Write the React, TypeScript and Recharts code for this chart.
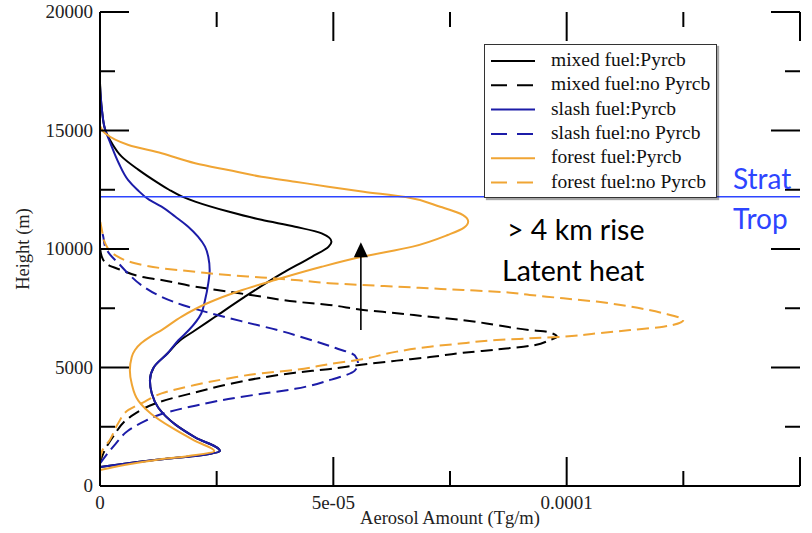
import React from "react";
import { LineChart, Line, XAxis, YAxis, ReferenceLine } from "recharts";

// aerosol amount in units of 1e-5 Tg/m, height in m
const mixedPyrcbH = [800, 960, 1130, 1270, 1480, 2050, 2600, 3300, 3900, 4450, 5000, 5600, 6150, 6570, 7130, 7980, 8970, 9670, 10100, 10310, 10660, 10940, 11230, 11580, 12000, 12220, 12500, 12780, 13350, 13910, 14480, 15040, 15900, 17000];
const mixedPyrcbV = [0, 0.6, 1.33, 2.04, 2.57, 2.04, 1.61, 1.25, 1.11, 1.07, 1.15, 1.45, 1.72, 2.04, 2.46, 3.1, 3.9, 4.54, 4.9, 4.96, 4.75, 4.18, 3.46, 2.75, 2.04, 1.75, 1.48, 1.25, 0.82, 0.46, 0.25, 0.11, 0.04, 0];

const mixedNoH = [1000, 1500, 2080, 2920, 3560, 3950, 4290, 4570, 4780, 4930, 5130, 5290, 5440, 5620, 5760, 5910, 6160, 6300, 6510, 6580, 6790, 7000, 7140, 7290, 7430, 7640, 7780, 7990, 8200, 8410, 8690, 8830, 9110, 9320, 9670, 10100];
const mixedNoV = [0, 0.1, 0.28, 0.65, 1.3, 2.04, 2.75, 3.46, 4.18, 4.89, 5.64, 6.36, 7.07, 7.78, 8.5, 9.21, 9.64, 9.79, 9.57, 9.21, 8.5, 7.78, 7.07, 6.36, 5.64, 4.91, 4.18, 3.46, 2.75, 2.04, 1.32, 0.89, 0.46, 0.18, 0.04, 0];

const slashPyrcbH = [800, 960, 1130, 1270, 1480, 2050, 2600, 3300, 3900, 4450, 5000, 5600, 6150, 6570, 7280, 7840, 8550, 9110, 9670, 10100, 10520, 10940, 11370, 11790, 12080, 12500, 12920, 13630, 14480, 15040, 15890, 16900];
const slashPyrcbV = [0, 0.6, 1.33, 2.04, 2.57, 2.04, 1.61, 1.25, 1.11, 1.07, 1.15, 1.45, 1.68, 1.9, 2.17, 2.25, 2.32, 2.35, 2.32, 2.25, 2.1, 1.89, 1.61, 1.32, 1.05, 0.8, 0.6, 0.4, 0.22, 0.11, 0.04, 0];

const slashNoH = [950, 1240, 1770, 2330, 2750, 3040, 3390, 3670, 3890, 4100, 4450, 4870, 5160, 5510, 5820, 6150, 6570, 6920, 7280, 7560, 7980, 8470, 8970, 9390, 9750, 10100, 10520, 11000];
const slashNoV = [0, 0.11, 0.33, 0.6, 0.97, 1.32, 2.04, 2.75, 3.46, 4.18, 4.89, 5.46, 5.53, 5.46, 5.05, 4.54, 3.82, 3.1, 2.39, 1.89, 1.32, 0.89, 0.6, 0.4, 0.22, 0.11, 0.07, 0];

const forestPyrcbH = [675, 900, 1100, 1270, 1470, 1900, 2470, 3040, 3600, 4310, 4870, 5440, 5740, 6020, 6300, 6580, 7150, 7710, 8270, 8690, 9250, 9670, 10100, 10590, 10900, 11160, 11430, 11780, 12190, 12420, 12630, 12840, 13050, 13330, 13620, 14040, 14390, 14880, 15200];
const forestPyrcbV = [0, 0.55, 1.2, 1.9, 2.45, 2.04, 1.53, 1.1, 0.82, 0.68, 0.64, 0.68, 0.75, 0.88, 1.08, 1.32, 1.75, 2.3, 3.05, 3.75, 4.75, 5.61, 6.7, 7.45, 7.8, 7.89, 7.78, 7.29, 6.55, 5.65, 4.89, 4.18, 3.46, 2.75, 2.04, 1.32, 0.61, 0.11, 0];

const forestNoH = [1100, 1500, 1940, 2650, 3210, 3560, 3910, 4260, 4540, 4760, 4900, 5140, 5350, 5670, 5880, 6020, 6160, 6230, 6300, 6440, 6580, 6720, 7000, 7290, 7570, 7780, 7920, 8060, 8200, 8270, 8340, 8410, 8480, 8560, 8690, 8800, 8900, 9040, 9190, 9400, 9750, 10240, 10800, 11220];
const forestNoV = [0, 0.05, 0.21, 0.39, 0.61, 0.96, 1.32, 2.03, 2.75, 3.46, 4.18, 4.9, 5.62, 6.36, 7.07, 7.78, 8.5, 9.21, 9.93, 10.64, 11.36, 12.07, 12.5, 12.07, 11.36, 10.64, 9.93, 9.21, 8.5, 7.78, 7.07, 6.36, 5.64, 4.91, 4.18, 3.46, 2.75, 2.04, 1.32, 0.75, 0.32, 0.11, 0.04, 0];

const xTicks = [0, 2.5, 5, 7.5, 10, 12.5, 15];
const xTickLabels: Record<number, string> = { 0: "0", 5: "5e-05", 10: "0.0001" };
const yTicks = [0, 2500, 5000, 7500, 10000, 12500, 15000, 17500, 20000];
const tropopause = 12200;

const BLACK = "#000000";
const BLUE = "#1c1ca8";
const ORANGE = "#f0a534";
const STRAT_BLUE = "#2d45ff";

const series = [
  { name: "mixed fuel:Pyrcb", h: mixedPyrcbH, v: mixedPyrcbV, color: BLACK, dash: undefined },
  { name: "mixed fuel:no Pyrcb", h: mixedNoH, v: mixedNoV, color: BLACK, dash: "12 6" },
  { name: "slash fuel:Pyrcb", h: slashPyrcbH, v: slashPyrcbV, color: BLUE, dash: undefined },
  { name: "slash fuel:no Pyrcb", h: slashNoH, v: slashNoV, color: BLUE, dash: "12 6" },
  { name: "forest fuel:Pyrcb", h: forestPyrcbH, v: forestPyrcbV, color: ORANGE, dash: undefined },
  { name: "forest fuel:no Pyrcb", h: forestNoH, v: forestNoV, color: ORANGE, dash: "12 6" },
];

const toRows = (h: number[], v: number[]) => h.map((hh, i) => ({ h: hh, v: v[i] }));

const SERIF = "'Liberation Serif', 'Times New Roman', serif";
const SANS = "Lato, 'Open Sans', sans-serif";
const PLOT = { left: 100, right: 800, top: 12, bottom: 486 };

const XTick = (props: any) => {
  const { x, payload } = props;
  const val = payload.value;
  const len = val % 5 === 0 ? 29 : 15;
  const label = xTickLabels[val];
  return (
    <g>
      <line x1={x} x2={x} y1={PLOT.bottom} y2={PLOT.bottom - len} stroke="#000" strokeWidth={2} />
      <line x1={x} x2={x} y1={PLOT.top} y2={PLOT.top + len} stroke="#000" strokeWidth={2} />
      {label && (
        <text x={x} y={509} textAnchor="middle" fontFamily={SERIF} fontSize={19} fill="#222">
          {label}
        </text>
      )}
    </g>
  );
};

const YTick = (props: any) => {
  const { y, payload } = props;
  const val = payload.value;
  const major = val % 5000 === 0;
  const len = major ? 29 : 15;
  return (
    <g>
      <line x1={PLOT.left} x2={PLOT.left + len} y1={y} y2={y} stroke="#000" strokeWidth={2} />
      <line x1={PLOT.right} x2={PLOT.right - len} y1={y} y2={y} stroke="#000" strokeWidth={2} />
      {major && (
        <text x={93} y={y + 6} textAnchor="end" fontFamily={SERIF} fontSize={19} fill="#222">
          {val}
        </text>
      )}
    </g>
  );
};

const ArrowShape = (p: any) => {
  const { x1, y1, x2, y2 } = p;
  return (
    <g>
      <line x1={x1} y1={y1} x2={x2} y2={y2 + 12} stroke="#000" strokeWidth={1.6} />
      <polygon points={`${x2},${y2} ${x2 - 7},${y2 + 15} ${x2 + 7},${y2 + 15}`} fill="#000" />
    </g>
  );
};

function LegendBox() {
  return (
    <div
      style={{
        position: "absolute",
        left: 484,
        top: 44,
        width: 231,
        height: 152,
        border: "1.5px solid #333",
        boxShadow: "2px 2px 1px rgba(0,0,0,0.35)",
        background: "#fff",
      }}
    >
      <svg width={231} height={152}>
        {series.map((s, i) => {
          const cy = 16 + i * 24.3;
          return (
            <g key={s.name}>
              <line x1={6} x2={50} y1={cy} y2={cy} stroke={s.color} strokeWidth={2} strokeDasharray={s.dash ? "16 10" : undefined} />
              <text x={66} y={cy + 5} fontFamily={SERIF} fontSize={19.5} fill="#111">
                {s.name}
              </text>
            </g>
          );
        })}
      </svg>
    </div>
  );
}

export default function App() {
  return (
    <div style={{ position: "absolute", left: 0, top: 0, width: 812, height: 533, background: "#fff" }}>
      <LineChart width={812} height={533} layout="vertical" margin={{ top: 12, right: 12, bottom: 0, left: 0 }}>
        <XAxis
          type="number"
          dataKey="v"
          domain={[0, 15]}
          ticks={xTicks}
          interval={0}
          height={47}
          tick={<XTick />}
          tickLine={false}
          axisLine={{ stroke: "#000", strokeWidth: 2 }}
          allowDataOverflow
          label={{ value: "Aerosol Amount (Tg/m)", position: "insideBottom", offset: 9, style: { fontFamily: SERIF, fontSize: 18.5, fill: "#222" } }}
        />
        <XAxis xAxisId="top" orientation="top" type="number" domain={[0, 15]} height={0} tick={false} tickLine={false} axisLine={{ stroke: "#000", strokeWidth: 2 }} />
        <YAxis
          type="number"
          dataKey="h"
          domain={[0, 20000]}
          ticks={yTicks}
          interval={0}
          width={100}
          reversed
          tick={<YTick />}
          tickLine={false}
          axisLine={{ stroke: "#000", strokeWidth: 2 }}
          allowDataOverflow
          label={{ value: "Height (m)", angle: -90, position: "insideLeft", offset: 22, style: { fontFamily: SERIF, fontSize: 18.5, fill: "#222", textAnchor: "middle" } }}
        />
        <YAxis yAxisId="right" orientation="right" type="number" domain={[0, 20000]} width={0} reversed tick={false} tickLine={false} axisLine={{ stroke: "#000", strokeWidth: 2 }} />
        {series.map((s) => (
          <Line
            key={s.name}
            name={s.name}
            data={toRows(s.h, s.v)}
            dataKey="v"
            type="monotone"
            stroke={s.color}
            strokeWidth={2}
            strokeDasharray={s.dash}
            dot={false}
            activeDot={false}
            isAnimationActive={false}
          />
        ))}
        <ReferenceLine y={tropopause} stroke={STRAT_BLUE} strokeWidth={1.5} />
        <ReferenceLine
          segment={[
            { x: 5.59, y: 6580 },
            { x: 5.59, y: 10290 },
          ]}
          shape={ArrowShape}
        />
      </LineChart>
      <LegendBox />
      <svg width={812} height={533} style={{ position: "absolute", left: 0, top: 0, pointerEvents: "none" }}>
        <text x={733} y={189} fontFamily={SANS} fontSize={28} fill={STRAT_BLUE}>Strat</text>
        <text x={733} y={229} fontFamily={SANS} fontSize={28} fill={STRAT_BLUE}>Trop</text>
        <text x={507} y={240} fontFamily={SANS} fontSize={28.5} fill="#000">&gt; 4 km rise</text>
        <text x={502} y={281} fontFamily={SANS} fontSize={28.5} fill="#000">Latent heat</text>
      </svg>
    </div>
  );
}
